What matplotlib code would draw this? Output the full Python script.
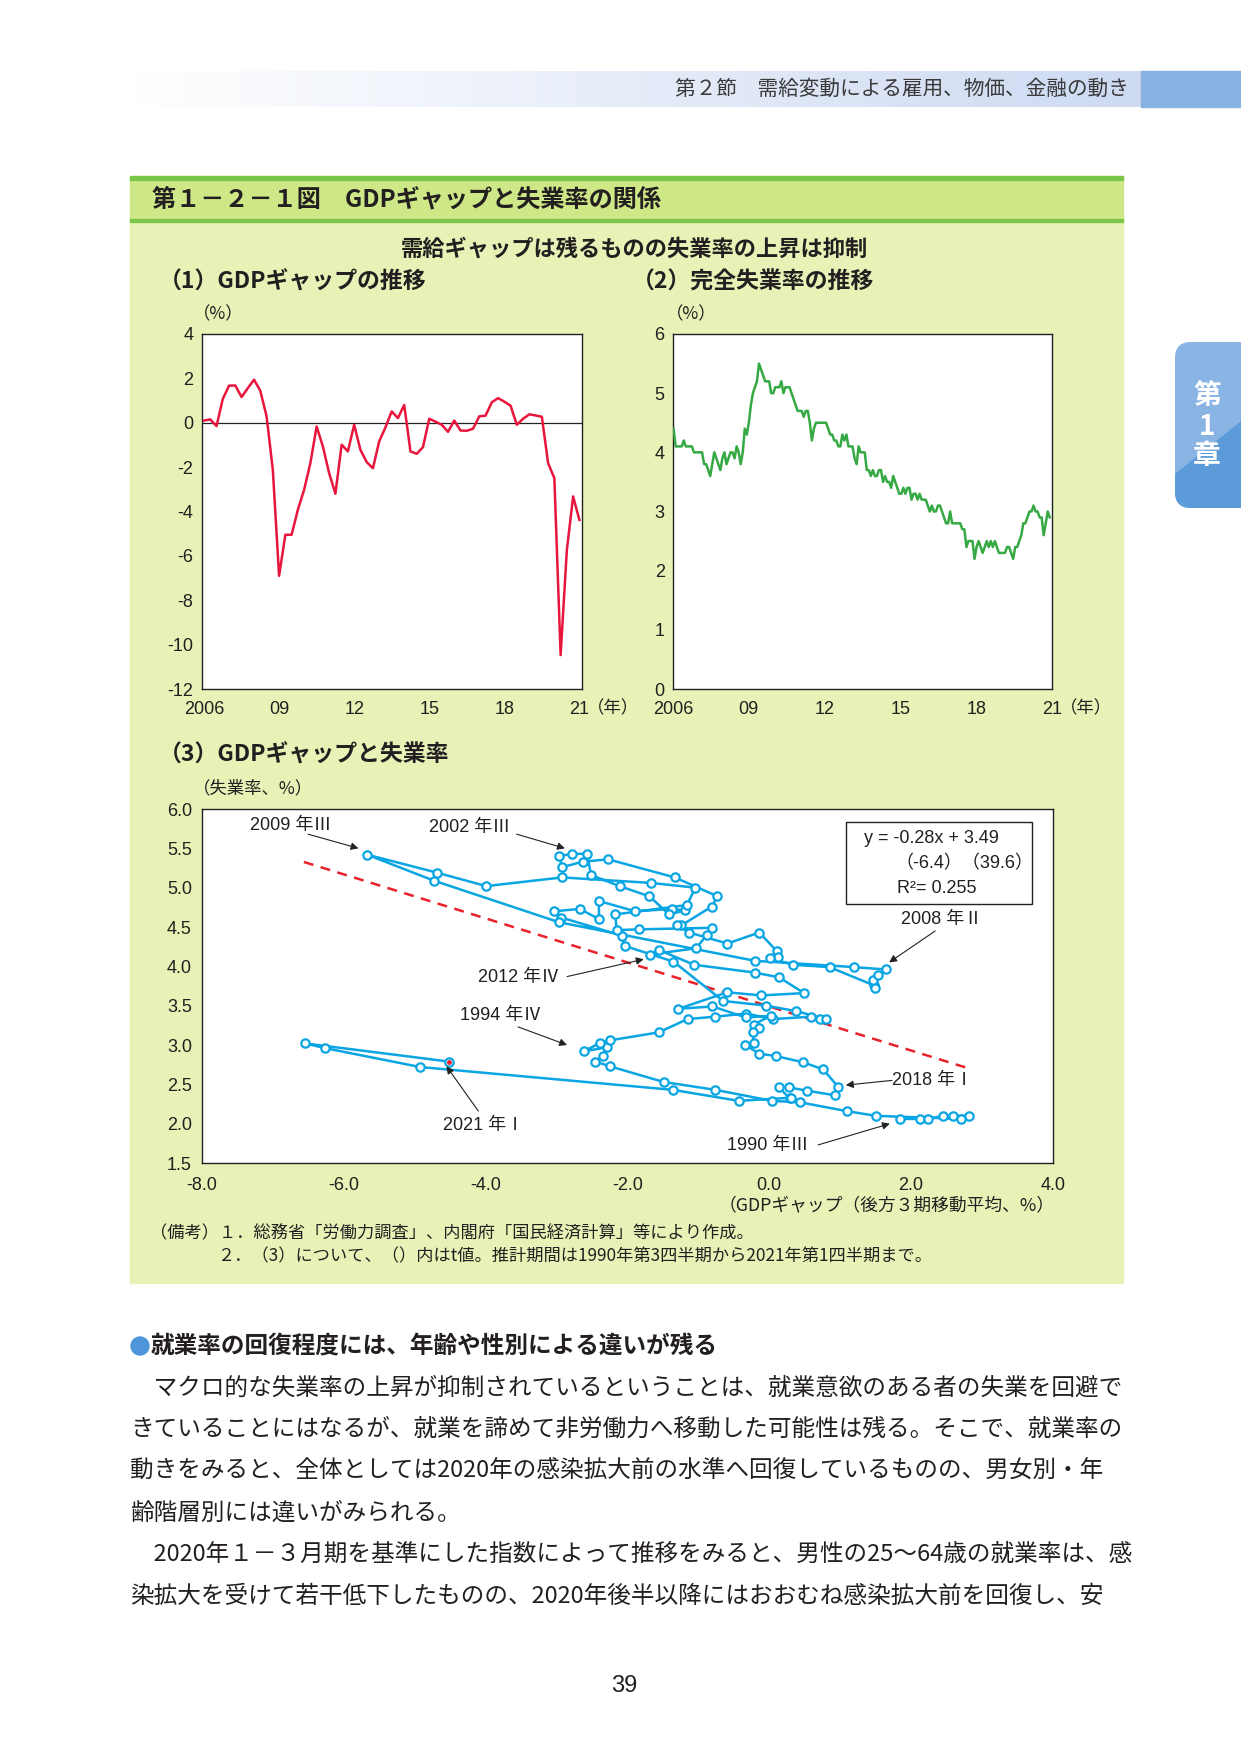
import numpy as np
import matplotlib
matplotlib.use("Agg")
import matplotlib.pyplot as plt
from matplotlib.patches import Rectangle, FancyBboxPatch, Polygon

plt.rcParams['font.family'] = ['Noto Sans CJK JP', 'DejaVu Sans']
plt.rcParams['axes.unicode_minus'] = False
NUM = ['Liberation Sans', 'Noto Sans CJK JP']

# === data ===
# (1) GDP gap, quarterly 2006Q1 - 2021Q1 (%)
gap_q = [0.10, 0.15, -0.15, 1.07,
         1.67, 1.68, 1.16, 1.56,
         1.94, 1.44, 0.29, -2.12,
         -6.90, -5.05, -5.05, -3.92,
         -3.02, -1.82, -0.17, -1.07,
         -2.27, -3.20, -0.99, -1.29,
         -0.09, -1.22, -1.77, -2.05,
         -0.84, -0.21, 0.51, 0.21,
         0.80, -1.29, -1.40, -1.10,
         0.18, 0.05, -0.09, -0.41,
         0.10, -0.35, -0.36, -0.27,
         0.29, 0.32, 0.92, 1.11,
         0.95, 0.77, -0.09, 0.18,
         0.38, 0.33, 0.27, -1.82,
         -2.50, -10.47, -5.73, -3.32,
         -4.38]

# (2) unemployment rate, monthly Jan 2006 - Jun 2021 (%)
unemp_m = [4.4, 4.1, 4.1, 4.1, 4.1, 4.2, 4.1, 4.1, 4.1, 4.1, 4.0, 4.0,
           4.0, 4.0, 4.0, 3.8, 3.8, 3.7, 3.6, 3.8, 4.0, 3.9, 3.8, 3.7,
           3.9, 4.0, 3.8, 3.9, 4.0, 4.0, 3.9, 4.1, 4.0, 3.8, 4.0, 4.4,
           4.3, 4.5, 4.8, 5.0, 5.1, 5.2, 5.5, 5.4, 5.3, 5.2, 5.2, 5.2,
           5.0, 5.0, 5.1, 5.1, 5.1, 5.2, 5.0, 5.1, 5.1, 5.1, 5.0, 4.9,
           4.8, 4.7, 4.7, 4.7, 4.6, 4.7, 4.7, 4.5, 4.2, 4.4, 4.5, 4.5,
           4.5, 4.5, 4.5, 4.5, 4.4, 4.3, 4.3, 4.2, 4.2, 4.1, 4.1, 4.3,
           4.2, 4.3, 4.1, 4.1, 4.1, 3.9, 3.8, 4.1, 4.0, 4.0, 4.0, 3.7,
           3.7, 3.6, 3.7, 3.6, 3.6, 3.7, 3.7, 3.5, 3.6, 3.5, 3.5, 3.4,
           3.6, 3.5, 3.4, 3.3, 3.3, 3.4, 3.3, 3.4, 3.4, 3.2, 3.3, 3.3,
           3.2, 3.3, 3.2, 3.2, 3.2, 3.1, 3.0, 3.1, 3.0, 3.0, 3.1, 3.1,
           3.0, 2.9, 2.8, 2.8, 3.0, 2.8, 2.8, 2.8, 2.8, 2.8, 2.7, 2.7,
           2.4, 2.5, 2.5, 2.5, 2.2, 2.4, 2.5, 2.4, 2.3, 2.4, 2.5, 2.4,
           2.5, 2.4, 2.5, 2.4, 2.3, 2.3, 2.3, 2.3, 2.4, 2.4, 2.3, 2.2,
           2.4, 2.4, 2.5, 2.6, 2.8, 2.8, 2.9, 3.0, 3.0, 3.1, 3.0, 3.0,
           2.9, 2.9, 2.6, 2.8, 3.0, 2.9]

# (3) GDP gap (3-quarter backward MA) vs unemployment, 1990Q3 - 2021Q1
gap_ma = [1.84, 2.12, 2.24, 2.45, 2.59, 2.81, 2.71, 1.50, 1.09, 0.44,
          0.04, -0.76, -1.49, -2.25, -2.45, -2.35, -2.29, -2.61, -2.38, -2.24,
          -1.56, -1.15, -0.76, -0.33, 0.06, 0.59, 0.72, 0.80, 0.38, -0.04,
          -0.65, -1.35, -2.04, -2.08, -2.93, -3.03, -2.67, -2.40, -2.40, -1.89,
          -1.37, -1.19, -1.41, -1.69, -2.11, -2.51, -2.57, -2.78, -2.96, -2.92,
          -2.63, -2.27, -1.33, -0.73, -0.81, -1.24, -1.30, -1.13, -0.59, -0.14,
          0.11, 0.12, 0.01, 0.34, 0.85, 1.47, 1.49, 1.46, 1.54, 1.64,
          1.20, -0.20, -2.96, -4.73, -5.67, -4.68, -3.99, -2.92, -1.66, -1.04,
          -1.16, -2.17, -2.15, -1.84, -0.80, -0.88, -1.03, -1.68, -1.56, -1.06,
          -0.20, 0.14, 0.49, -0.11, -0.59, -1.28, -0.80, -0.33, 0.02, -0.22,
          -0.15, -0.23, -0.22, -0.34, -0.14, 0.09, 0.48, 0.76, 0.97, 0.93,
          0.53, 0.28, 0.14, 0.29, 0.31, -0.43, -1.36, -4.92, -6.26, -6.54,
          -4.52]
unemp_q = [2.06, 2.06, 2.06, 2.10, 2.10, 2.10, 2.06, 2.10, 2.16, 2.27,
           2.29, 2.43, 2.53, 2.73, 2.79, 2.86, 2.97, 2.92, 3.03, 3.06,
           3.16, 3.33, 3.36, 3.40, 3.33, 3.36, 3.33, 3.33, 3.43, 3.50,
           3.56, 4.06, 4.26, 4.39, 4.62, 4.70, 4.73, 4.60, 4.83, 4.70,
           4.73, 4.71, 4.66, 4.89, 5.02, 5.16, 5.43, 5.43, 5.40, 5.26,
           5.33, 5.36, 5.13, 4.89, 4.76, 4.52, 4.52, 4.43, 4.29, 4.43,
           4.19, 4.12, 4.10, 4.02, 3.99, 3.76, 3.73, 3.83, 3.89, 3.96,
           3.99, 4.07, 4.56, 5.09, 5.42, 5.19, 5.02, 5.13, 5.06, 5.00,
           4.78, 4.66, 4.46, 4.47, 4.49, 4.40, 4.23, 4.15, 4.21, 4.02,
           3.92, 3.86, 3.66, 3.63, 3.67, 3.46, 3.49, 3.35, 3.37, 3.26,
           3.22, 3.16, 3.03, 3.00, 2.89, 2.86, 2.78, 2.69, 2.47, 2.36,
           2.42, 2.46, 2.46, 2.32, 2.33, 2.29, 2.43, 2.72, 2.96, 3.02,
           2.79]

slope, intercept = -0.28, 3.49
fit_range = [-6.56, 2.78]

year_labels = ["2006", "09", "12", "15", "18", "21"]
scatter_xticks = [-8.0, -6.0, -4.0, -2.0, 0.0, 2.0, 4.0]
scatter_yticks = [1.5, 2.0, 2.5, 3.0, 3.5, 4.0, 4.5, 5.0, 5.5, 6.0]

RED = "#E8163C"
GREEN = "#36A944"
BLUE = "#0AA5E3"
TXT = "#231F20"

W, H = 1241, 1755
fig = plt.figure(figsize=(W / 100, H / 100), dpi=100)

# === page background (pixel coords) ===
bg = fig.add_axes([0, 0, 1, 1])
bg.set_xlim(0, W)
bg.set_ylim(H, 0)
bg.axis("off")

grad = np.linspace(0, 1, 256)
c0 = np.array([1.0, 1.0, 1.0])
c1 = np.array([205, 218, 242]) / 255
img = (c0[None, :] * (1 - grad[:, None]) + c1[None, :] * grad[:, None])[None, :, :]
bg.imshow(img, extent=(130, 1141, 107, 71), aspect="auto", zorder=0)
bg.add_patch(Rectangle((1141, 71), 100, 36, color="#89B0E2", zorder=1))
bg.text(1129, 89, "第２節　需給変動による雇用、物価、金融の動き", ha="right", va="center",
        fontsize=14.9, color="#3A3A3A", zorder=2)

# chapter tab
tab = FancyBboxPatch((1175, 342), 80, 166, boxstyle="round,pad=0,rounding_size=16",
                     fc="#8AB4E4", ec="none", zorder=1)
bg.add_patch(tab)
dark = Polygon([(1170, 478), (1245, 418), (1245, 515), (1170, 515)], closed=True,
               fc="#5B9BD9", ec="none", zorder=1.5)
bg.add_patch(dark)
dark.set_clip_path(tab)
for txt, yy in [("第", 396), ("1", 427), ("章", 456)]:
    bg.text(1207, yy, txt, ha="center", va="center", fontsize=20, fontweight="bold",
            color="white", zorder=3)

# green panel
bg.add_patch(Rectangle((130, 220), 993, 1063, color="#E6F2B6", zorder=0))
bg.add_patch(Rectangle((130, 177), 993, 43, color="#CEE887", zorder=0))
bg.add_patch(Rectangle((130, 176), 993, 4, color="#7CC64A", zorder=1))
bg.add_patch(Rectangle((130, 219), 993, 2.5, color="#7CC64A", zorder=1))
bg.text(152, 199, "第１－２－１図　GDPギャップと失業率の関係", ha="left", va="center",
        fontsize=17.4, fontweight="bold", color=TXT)
bg.text(634, 249, "需給ギャップは残るものの失業率の上昇は抑制", ha="center", va="center",
        fontsize=16, fontweight="bold", color=TXT)
bg.text(159, 282, "（1）GDPギャップの推移", ha="left", va="center",
        fontsize=16.5, fontweight="bold", color=TXT)
bg.text(632, 282, "（2）完全失業率の推移", ha="left", va="center",
        fontsize=16.5, fontweight="bold", color=TXT)
bg.text(159, 755, "（3）GDPギャップと失業率", ha="left", va="center",
        fontsize=16.5, fontweight="bold", color=TXT)
bg.text(193, 314, "（%）", ha="left", va="center", fontsize=12.5, color=TXT)
bg.text(666, 314, "（%）", ha="left", va="center", fontsize=12.5, color=TXT)
bg.text(193, 788, "（失業率、%）", ha="left", va="center", fontsize=12.5, color=TXT)
bg.text(587, 708, "（年）", ha="left", va="center", fontsize=12.5, color=TXT)
bg.text(1060, 708, "（年）", ha="left", va="center", fontsize=12.5, color=TXT)
bg.text(1055, 1205, "（GDPギャップ（後方３期移動平均、%）", ha="right", va="center",
        fontsize=12.8, color=TXT)

# notes
bg.text(150, 1233, "（備考）１．総務省「労働力調査」、内閣府「国民経済計算」等により作成。",
        ha="left", va="center", fontsize=12.4, color=TXT)
bg.text(217, 1256, "２．（3）について、（）内はt値。推計期間は1990年第3四半期から2021年第1四半期まで。",
        ha="left", va="center", fontsize=12.4, color=TXT)

# body text
bg.add_patch(plt.Circle((140, 1346), 9, color="#4E95DB", zorder=2))
bg.text(151, 1346, "就業率の回復程度には、年齢や性別による違いが残る", ha="left", va="center",
        fontsize=17, fontweight="bold", color=TXT)
body = ["　マクロ的な失業率の上昇が抑制されているということは、就業意欲のある者の失業を回避で",
        "きていることにはなるが、就業を諦めて非労働力へ移動した可能性は残る。そこで、就業率の",
        "動きをみると、全体としては2020年の感染拡大前の水準へ回復しているものの、男女別・年",
        "齢階層別には違いがみられる。",
        "　2020年１－３月期を基準にした指数によって推移をみると、男性の25～64歳の就業率は、感",
        "染拡大を受けて若干低下したものの、2020年後半以降にはおおむね感染拡大前を回復し、安"]
for i, line in enumerate(body):
    bg.text(130, 1388 + 41.7 * i, line, ha="left", va="center", fontsize=17, color=TXT)
bg.text(624, 1686, "39", ha="center", va="center", fontsize=17, color=TXT, family=NUM)


def style_axes(ax):
    for s in ax.spines.values():
        s.set_linewidth(1.0)
        s.set_color("#222222")
    ax.tick_params(length=0, labelsize=13, colors=TXT)
    for lab in ax.get_xticklabels() + ax.get_yticklabels():
        lab.set_family(NUM)


# === (1) GDP gap ===
ax1 = fig.add_axes([201.7 / W, 1 - 689 / H, 380 / W, 355 / H])
q = np.arange(len(gap_q))
ax1.plot(q, gap_q, color=RED, lw=1.8, zorder=3)
ax1.axhline(0, color="#222222", lw=0.9, zorder=2)
ax1.set_xlim(-0.37, 60.37)
ax1.set_ylim(-12, 4)
ax1.set_yticks(range(-12, 5, 2))
ax1.set_xticks(range(0, 61, 12))
ax1.set_xticklabels(year_labels)
style_axes(ax1)
ax1.tick_params(axis="y", pad=6)
ax1.tick_params(axis="x", pad=9)

# === (2) unemployment ===
ax2 = fig.add_axes([673 / W, 1 - 689 / H, 379 / W, 355 / H])
m = np.arange(len(unemp_m))
ax2.plot(m, unemp_m, color=GREEN, lw=1.8, zorder=3)
ax2.set_xlim(-0.3, 186.1)
ax2.set_ylim(0, 6)
ax2.set_yticks(range(0, 7))
ax2.set_xticks(np.linspace(-0.3, 186.1, 6))
ax2.set_xticklabels(year_labels)
style_axes(ax2)
ax2.tick_params(axis="y", pad=6)
ax2.tick_params(axis="x", pad=9)

# === (3) scatter ===
ax3 = fig.add_axes([201.7 / W, 1 - 1163 / H, 851.3 / W, 354 / H])
fx = np.array(fit_range)
ax3.plot(fx, slope * fx + intercept, color="#E8212B", lw=1.8, ls=(0, (4, 3)), zorder=2)
ax3.plot(gap_ma, unemp_q, "-o", color=BLUE, lw=1.8, ms=6, mfc="white", mec=BLUE,
         mew=1.6, zorder=3)
ax3.plot(gap_ma[-1], unemp_q[-1], "o", color="#E8212B", ms=2.5, zorder=4)
ax3.set_xlim(-8, 4)
ax3.set_ylim(1.5, 6.0)
ax3.set_xticks(scatter_xticks)
ax3.set_xticklabels([f"{v:.1f}" for v in scatter_xticks])
ax3.set_yticks(scatter_yticks)
ax3.set_yticklabels([f"{v:.1f}" for v in scatter_yticks])
style_axes(ax3)
ax3.tick_params(axis="y", pad=7)
ax3.tick_params(axis="x", pad=10)

# regression box
ax3.add_patch(Rectangle((1.08, 4.79), 2.62, 1.05, fc="white", ec="#222222", lw=1.0, zorder=5))
ax3.text(1.33, 5.63, "y = -0.28x + 3.49", ha="left", va="center", fontsize=13,
         color=TXT, family=NUM, zorder=6)
ax3.text(1.78, 5.31, "（-6.4）（39.6）", ha="left", va="center", fontsize=13,
         color=TXT, family=NUM, zorder=6)
ax3.text(1.80, 4.99, "R²= 0.255", ha="left", va="center", fontsize=13,
         color=TXT, family=NUM, zorder=6)

# annotations: (label, text pos, arrow start, arrow tip)
notes = [("2009 年Ⅲ", (-6.75, 5.79), (-6.50, 5.68), (-5.79, 5.50)),
         ("2002 年Ⅲ", (-4.22, 5.77), (-3.56, 5.68), (-2.88, 5.50)),
         ("2012 年Ⅳ", (-3.53, 3.86), (-2.85, 3.87), (-1.77, 4.09)),
         ("1994 年Ⅳ", (-3.79, 3.37), (-3.54, 3.23), (-2.85, 3.00)),
         ("2021 年Ⅰ", (-4.02, 1.98), (-4.10, 2.16), (-4.55, 2.73)),
         ("2008 年Ⅱ", (2.43, 4.59), (2.34, 4.45), (1.69, 4.05)),
         ("2018 年Ⅰ", (2.30, 2.55), (1.73, 2.55), (1.08, 2.49)),
         ("1990 年Ⅲ", (-0.02, 1.72), (0.69, 1.73), (1.70, 2.00))]
for label, tpos, start, tip in notes:
    ax3.text(tpos[0], tpos[1], label, ha="center", va="center", fontsize=13,
             color=TXT, family=NUM, zorder=6)
    ax3.annotate("", xy=tip, xytext=start,
                 arrowprops=dict(arrowstyle="-|>", color="#222222", lw=0.8,
                                 mutation_scale=11, shrinkA=0, shrinkB=0), zorder=6)

fig.savefig("out.png", dpi=100, facecolor="white")
